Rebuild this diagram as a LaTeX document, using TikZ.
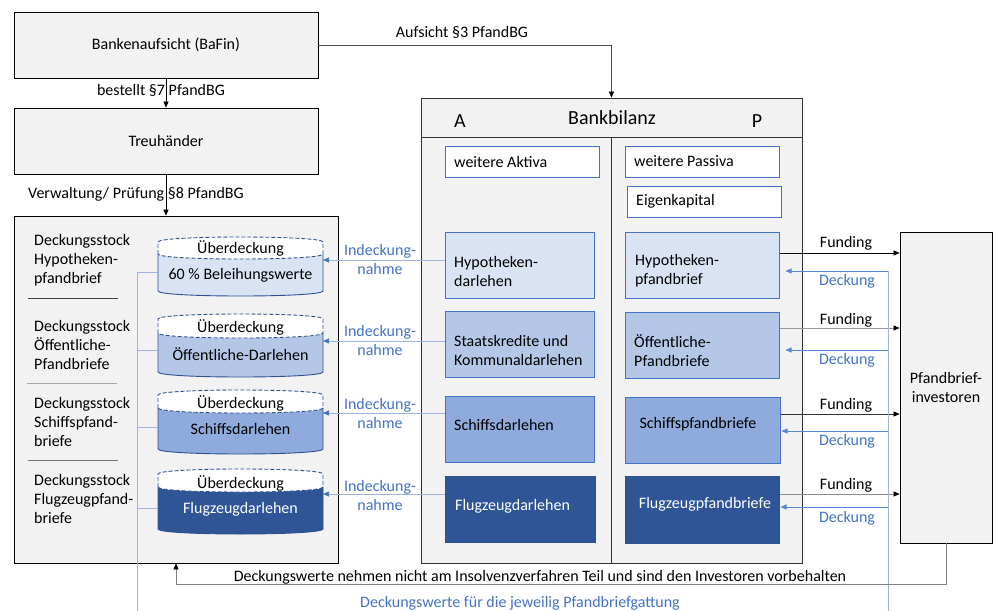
\documentclass[tikz,border=0pt]{standalone}
\usepackage{fontspec}
\setmainfont{Carlito}
\usetikzlibrary{arrows.meta}
\definecolor{gfill}{HTML}{F2F2F2}
\definecolor{lbA}{HTML}{DAE3F3}
\definecolor{lbB}{HTML}{B4C7E7}
\definecolor{lbC}{HTML}{8FAADC}
\definecolor{dbD}{HTML}{2F5597}
\definecolor{bbord}{HTML}{4472C4}
\definecolor{cbord}{HTML}{2F528F}
\definecolor{btext}{HTML}{4472C4}
\definecolor{vlinec}{HTML}{9DB4E0}
\definecolor{dline}{HTML}{5B85D0}

\newcommand\mycyl[8]{%
 \fill[#4] (158,#2) .. controls (158,#2+6.67) and (323,#2+6.67) .. (323,#2) -- (323,#3) .. controls (323,#3+6.67) and (158,#3+6.67) .. (158,#3) -- cycle;
 \fill[white] (158,#1) .. controls (158,#1-6.67) and (323,#1-6.67) .. (323,#1) -- (323,#2) .. controls (323,#2+6.67) and (158,#2+6.67) .. (158,#2) -- cycle;
 \draw[cylb, dash pattern=on 4pt off 2pt] (158,#2) -- (158,#1) .. controls (158,#1-6.67) and (323,#1-6.67) .. (323,#1) -- (323,#2) .. controls (323,#2+6.67) and (158,#2+6.67) .. (158,#2);
 \draw[cylb] (323,#2) -- (323,#3) .. controls (323,#3+6.67) and (158,#3+6.67) .. (158,#3) -- (158,#2);
 \node at (240.5,#5) {Überdeckung};
 \node[text=#8] at (240.5,#6) {#7};
}

\begin{document}
\begin{tikzpicture}[x=1pt,y=-1pt, font=\fontsize{16}{19}\selectfont,
 gbox/.style={draw=black, fill=gfill, line width=0.8pt, inner sep=0pt},
 wbox/.style={draw=bbord, fill=white, line width=1pt, inner sep=0pt},
 fbox/.style={draw=bbord, line width=1pt, inner sep=0pt},
 cylb/.style={draw=cbord, line width=0.9pt},
 txt/.style={inner sep=0pt, align=left},
 big/.style={font=\fontsize{20}{24}\selectfont},
 tipk/.style={-{Triangle[length=6pt,width=5pt,color=black,fill=black]}, line width=0.6pt},
 tipb/.style={-{Triangle[length=6pt,width=5pt]}, line width=0.7pt, dline},
 indk/.style={-{Triangle[length=6pt,width=5pt,color=bbord,fill=bbord]}, line width=0.7pt, vlinec},
 blab/.style={text=btext, align=center, inner sep=0pt},
]
\useasboundingbox (0,0) rectangle (997,611);

% left column
\node[gbox, minimum width=304, minimum height=66] (baf) at (166,45) {Bankenaufsicht (BaFin)};
\node[gbox, minimum width=304, minimum height=66] (treu) at (166,141) {Treuhänder};
\node[gbox, minimum width=324, minimum height=347] (stock) at (176,389.5) {};

% Bankbilanz
\node[gbox, draw=black!80, minimum width=381, minimum height=465] (bil) at (611.5,330.5) {};
\draw[black!80, line width=0.8pt] (421,137) -- (802,137);
\draw[black!80, line width=0.8pt] (611,137) -- (611,563);
\node[big] (lA) at (460,121) {A};
\node[big] (lB) at (612,118) {Bankbilanz};
\node[big] (lP) at (757,121) {P};

\node[wbox, minimum width=154, minimum height=31] (wa) at (522,161.5) {};
\node[txt, anchor=west] (wat) at (454,161.5) {weitere Aktiva};
\node[wbox, minimum width=154, minimum height=31] (wp) at (702,161.5) {};
\node[txt, anchor=west] (wpt) at (634,161.5) {weitere Passiva};
\node[wbox, minimum width=154, minimum height=31] (ek) at (704,201.5) {};
\node[txt, anchor=west] (ekt) at (636,201.5) {Eigenkapital};

\node[fbox, fill=lbA, minimum width=149, minimum height=66] (hd) at (519.5,265) {};
\node[txt, anchor=west] (hdt) at (454,271.5) {Hypotheken-\\darlehen};
\node[fbox, fill=lbA, minimum width=154, minimum height=66] (hp) at (702,265) {};
\node[txt, anchor=west] (hpt) at (635,271) {Hypotheken-\\pfandbrief};

\node[fbox, fill=lbB, minimum width=149, minimum height=66] (sk) at (519.5,344) {};
\node[txt, anchor=west] (skt) at (454,350.5) {Staatskredite und\\Kommunaldarlehen};
\node[fbox, fill=lbB, minimum width=154, minimum height=66] (op) at (702,345) {};
\node[txt, anchor=west] (opt) at (634,350.5) {Öffentliche-\\Pfandbriefe};

\node[fbox, fill=lbC, minimum width=149, minimum height=66] (sd) at (519.5,429) {};
\node[txt, anchor=west] (sdt) at (454,425) {Schiffsdarlehen};
\node[fbox, fill=lbC, minimum width=155, minimum height=66] (sp) at (702.5,430) {};
\node[txt] (spt) at (698,424) {Schiffspfandbriefe};

\node[fbox, draw=cbord, fill=dbD, minimum width=150, minimum height=66] (fd) at (520,509) {};
\node[txt, anchor=west, text=white] (fdt) at (455,506) {Flugzeugdarlehen};
\node[fbox, draw=cbord, fill=dbD, minimum width=154, minimum height=67] (fp) at (702,509.5) {};
\node[txt, text=white] (fpt) at (705,504) {Flugzeugpfandbriefe};

% investors
\node[gbox, minimum width=92, minimum height=311, align=center] (inv) at (946,387.5) {Pfandbrief-\\investoren};

% Deckungsstock labels
\node[txt, anchor=west] (ds1) at (34,260) {Deckungsstock\\Hypotheken-\\pfandbrief};
\node[txt, anchor=west] (ds2) at (34,344.5) {Deckungsstock\\Öffentliche-\\Pfandbriefe};
\node[txt, anchor=west] (ds3) at (34,421.5) {Deckungsstock\\Schiffspfand-\\briefe};
\node[txt, anchor=west] (ds4) at (34,498.5) {Deckungsstock\\Flugzeugpfand-\\briefe};
\draw[black!75, line width=0.8pt] (28,298) -- (118,298);
\draw[black!35, line width=0.8pt] (27,383) -- (117,383);
\draw[black!55, line width=0.8pt] (28,460) -- (118,460);

% cylinders
\mycyl{242}{254}{291}{lbA}{248}{275}{60 \% Beleihungswerte}{black}
\mycyl{319}{333}{372}{lbB}{327}{354}{Öffentliche-Darlehen}{black}
\mycyl{395}{408}{449}{lbC}{403}{429}{Schiffsdarlehen}{black}
\mycyl{474}{487}{529}{dbD}{483}{509}{Flugzeugdarlehen}{white}

\coordinate (c1r) at (323,260);
\coordinate (c2r) at (323,341);
\coordinate (c3r) at (323,413);
\coordinate (c4r) at (323,494);
\coordinate (c1l) at (158,272);
\coordinate (c2l) at (158,350);
\coordinate (c3l) at (158,427);
\coordinate (c4l) at (158,508);
\coordinate (vtop) at (137,272);
\coordinate (vbot) at (137,611);

% top connectors
\draw[tipk] (baf.south) -- (treu.north);
\node (l7) at (161,90) {bestellt §7 PfandBG};
\draw[tipk] (treu.south) -- (treu.south |- stock.north);
\node (l8) at (136,194) {Verwaltung/ Prüfung §8 PfandBG};
\draw[tipk, black!70] (baf.east) -| (bil.north);
\node (l3) at (462,32) {Aufsicht §3 PfandBG};

% Indeckungnahme
\draw[indk] (hd.west |- c1r) -- (c1r);
\draw[indk] (sk.west |- c2r) -- (c2r);
\draw[indk] (sd.west |- c3r) -- (c3r);
\draw[indk] (fd.west |- c4r) -- (c4r);
\node[blab] (i1) at (380,259) {Indeckung-\\nahme};
\node[blab] (i2) at (380,340) {Indeckung-\\nahme};
\node[blab] (i3) at (380,413) {Indeckung-\\nahme};
\node[blab] (i4) at (380,495) {Indeckung-\\nahme};

% left blue collector
\draw[vlinec, line width=0.9pt] (vtop) -- (vbot);
\draw[vlinec, line width=0.9pt] (c1l) -- (c1l -| vtop);
\draw[vlinec, line width=0.9pt] (c2l) -- (c2l -| vtop);
\draw[vlinec, line width=0.9pt] (c3l) -- (c3l -| vtop);
\draw[vlinec, line width=0.9pt] (c4l) -- (c4l -| vtop);

% Funding
\coordinate (f1) at (0,253);
\coordinate (f2) at (0,328);
\coordinate (f3) at (0,414);
\coordinate (f4) at (0,494);
\draw[tipk] (hp.east |- f1) -- (inv.west |- f1);
\draw[tipk, black!40] (op.east |- f2) -- (inv.west |- f2);
\draw[tipk, black!80] (sp.east |- f3) -- (inv.west |- f3);
\draw[tipk, black!45] (fp.east |- f4) -- (inv.west |- f4);
\node (fl1) at (846,243) {Funding};
\node (fl2) at (846,320) {Funding};
\node (fl3) at (846,405) {Funding};
\node (fl4) at (846,485) {Funding};

% Deckung
\coordinate (dtop) at (888,271);
\coordinate (dbot) at (888,611);
\coordinate (d2) at (888,350);
\coordinate (d3) at (888,431);
\coordinate (d4) at (888,507);
\draw[vlinec, line width=0.9pt] (dtop) -- (dbot);
\draw[tipb, shorten >=6pt] (dtop) -- (hp.east |- dtop);
\draw[tipb, shorten >=6pt] (d2) -- (op.east |- d2);
\draw[tipb, shorten >=1pt] (d3) -- (sp.east |- d3);
\draw[tipb, shorten >=1pt] (d4) -- (fp.east |- d4);
\node[blab] (dl1) at (847,281) {Deckung};
\node[blab] (dl2) at (847,360) {Deckung};
\node[blab] (dl3) at (847,441) {Deckung};
\node[blab] (dl4) at (847,518) {Deckung};

% bottom return
\coordinate (ret) at (176,584);
\draw[tipk, black!50] (inv.south) |- (ret) -- (stock.south);
\node (bl) at (540,577) {Deckungswerte nehmen nicht am Insolvenzverfahren Teil und sind den Investoren vorbehalten};
\node[blab] (bl2) at (520,603) {Deckungswerte für die jeweilig Pfandbriefgattung};
\end{tikzpicture}
\end{document}
